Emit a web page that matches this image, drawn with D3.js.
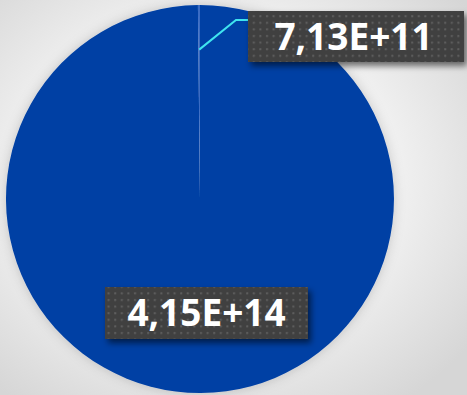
<!DOCTYPE html>
<html>
<head>
  <meta charset="utf-8">
  <script src="https://d3js.org/d3.v7.min.js"></script>
  <style>
    html, body { margin: 0; padding: 0; }
    body { width: 467px; height: 395px; overflow: hidden; }
  </style>
</head>
<body>
<div id="chart"></div>
<script>
  // values
  const categories = ["A", "B"];
  const values = [4.15e14, 7.13e11];
  const labels = ["4,15E+14", "7,13E+11"];
  const colors = ["#0041a4", "#3a6cc4"];

  const width = 467, height = 395;
  const cx = 200, cy = 199, radius = 194;

  const svg = d3.select("#chart").append("svg")
    .attr("width", width)
    .attr("height", height);

  const defs = svg.append("defs");

  const bg = defs.append("radialGradient")
    .attr("id", "bg")
    .attr("cx", "45%").attr("cy", "45%").attr("r", "70%");
  bg.append("stop").attr("offset", "0%").attr("stop-color", "#ffffff");
  bg.append("stop").attr("offset", "55%").attr("stop-color", "#f2f2f2");
  bg.append("stop").attr("offset", "100%").attr("stop-color", "#d6d6d6");

  const pat = defs.append("pattern")
    .attr("id", "dots")
    .attr("patternUnits", "userSpaceOnUse")
    .attr("width", 6.6).attr("height", 6.6);
  pat.append("rect").attr("width", 6.6).attr("height", 6.6).attr("fill", "#404040");
  pat.append("rect").attr("x", 2).attr("y", 2).attr("width", 2).attr("height", 2).attr("fill", "#5e5e5e");

  const shadow = defs.append("filter").attr("id", "shadow")
    .attr("x", "-20%").attr("y", "-20%").attr("width", "140%").attr("height", "150%");
  shadow.append("feDropShadow")
    .attr("dx", 3).attr("dy", 4).attr("stdDeviation", 3)
    .attr("flood-color", "#000").attr("flood-opacity", 0.55);

  const pieShadow = defs.append("filter").attr("id", "pieShadow")
    .attr("x", "-20%").attr("y", "-20%").attr("width", "140%").attr("height", "140%");
  pieShadow.append("feDropShadow")
    .attr("dx", 0).attr("dy", 0).attr("stdDeviation", 6)
    .attr("flood-color", "#000").attr("flood-opacity", 0.18);

  svg.append("rect")
    .attr("width", width).attr("height", height)
    .attr("fill", "url(#bg)");

  const pie = d3.pie().sort(null).value(d => d);
  const arcs = pie(values);
  const arc = d3.arc().innerRadius(0).outerRadius(radius);

  const g = svg.append("g")
    .attr("transform", `translate(${cx},${cy})`)
    .attr("filter", "url(#pieShadow)");

  g.selectAll("path")
    .data(arcs)
    .join("path")
    .attr("d", arc)
    .attr("fill", (d, i) => colors[i]);

  // leader line for the small slice
  const small = arcs[1];
  const mid = (small.startAngle + small.endAngle) / 2;
  const r0 = radius * 0.77;
  const p0 = [cx + r0 * Math.sin(mid), cy - r0 * Math.cos(mid)];
  svg.append("polyline")
    .attr("points", `${p0[0]},${p0[1]} 236,20 249,20`)
    .attr("fill", "none")
    .attr("stroke", "#3fe4ef")
    .attr("stroke-width", 2);

  // data labels
  const boxes = [
    { x: 105, y: 287, w: 203, h: 52 },
    { x: 248, y: 11, w: 216, h: 51 }
  ];

  boxes.forEach((b, i) => {
    const lg = svg.append("g");
    lg.append("rect")
      .attr("x", b.x).attr("y", b.y)
      .attr("width", b.w).attr("height", b.h)
      .attr("fill", "url(#dots)")
      .attr("filter", "url(#shadow)");
    lg.append("text")
      .attr("x", b.x + b.w / 2 - (i === 1 ? 2.5 : 0))
      .attr("y", b.y + b.h / 2 + 13)
      .attr("text-anchor", "middle")
      .attr("font-family", "'Open Sans', sans-serif")
      .attr("font-weight", "bold")
      .attr("font-size", 37)
      .attr("fill", "#ffffff")
      .text(labels[i]);
  });
</script>
</body>
</html>
